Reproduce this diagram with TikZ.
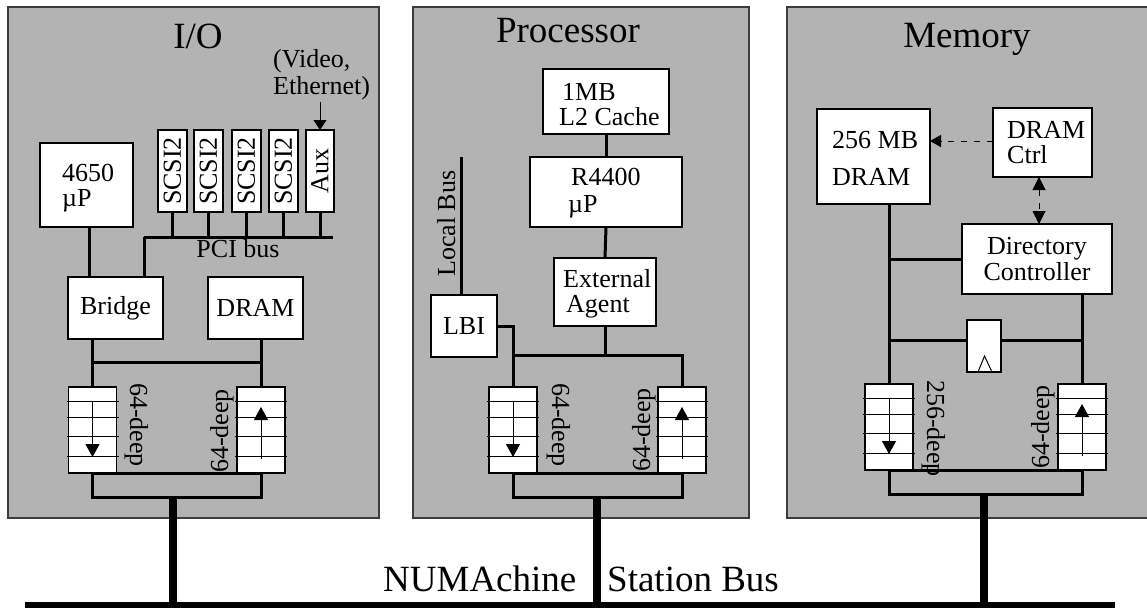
\documentclass[tikz,border=0pt]{standalone}
\usepackage{fontspec}
\setmainfont{Liberation Serif}
\usetikzlibrary{arrows.meta,calc}
\definecolor{panelgray}{RGB}{179,179,179}
\definecolor{paneledge}{RGB}{60,60,60}
\tikzset{
  panel/.style={draw=paneledge, fill=panelgray, line width=1.1pt},
  box/.style={draw=black, fill=white, line width=1.1pt, inner sep=0pt, outer sep=0pt},
  fifobox/.style={box, minimum width=48pt, minimum height=86pt},
  wire/.style={line width=3pt},
  thinwire/.style={line width=1pt},
  drop/.style={line width=8pt},
  title/.style={font=\fontsize{37}{40}\selectfont, inner sep=0pt, anchor=base},
  lbl/.style={font=\fontsize{26}{28}\selectfont, inner sep=0pt},
  tip/.style={-{Triangle[length=13pt,width=14pt]}},
  dashline/.style={thinwire, dash pattern=on 6pt off 7pt},
}
\newcommand{\myfifo}[5]{%
  \node[fifobox] (#1) at (#2,#3+43) {};
  \foreach \o in {14,30,49,69} {\draw[thinwire] ($(#1.north west)+(-2,\o)$) -- ($(#1.north east)+(2,\o)$);}
  \draw[thinwire, tip] ($(#1.north)+(0,#4)$) -- ($(#1.north)+(0,#5)$);
}
\begin{document}
\begin{tikzpicture}[x=1pt,y=-1pt]
\useasboundingbox (0,0) rectangle (1147,607);
% panels
\draw[panel] (8,7) rectangle (379,518);
\draw[panel] (413,7) rectangle (749,518);
\draw[panel] (787,7) rectangle (1152,518);

% station bus
\coordinate (busL) at (25,604.5);
\coordinate (busR) at (1115,604.5);
\draw[line width=6pt] (busL) -- (busR);
\node[title, anchor=base west] (numa) at (383,591) {NUMAchine};
\node[title, anchor=base west] (stbus) at (607,591) {Station Bus};

% ================= I/O =================
\node[title] (ioT) at (198,49) {I/O};
\node[lbl, anchor=base west] (vid) at (273,68) {(Video,};
\node[lbl, anchor=base west] (eth) at (273,95) {Ethernet)};
\foreach \n/\x in {s1/172.5, s2/208.5, s3/246.5, s4/283.5} {
  \node[box, minimum width=29pt, minimum height=82pt] (\n) at (\x,171) {};
  \node[lbl, rotate=90] at (\n) {SCSI2};
}
\node[box, minimum width=28pt, minimum height=82pt] (aux) at (320,171) {};
\node[lbl, rotate=90] at (aux) {Aux};
\coordinate (auxIn) at (320,102);
\draw[thinwire, -{Triangle[length=10pt,width=13pt]}] (auxIn) -- (aux.north);
\coordinate (pciL) at (144,237);
\coordinate (pciR) at (333,237);
\draw[wire] (pciL) -- (pciR);
\foreach \n in {s1,s2,s3,s4,aux} \draw[wire] (\n.south) -- (\n.south |- pciL);
\node[lbl, anchor=base] (pcilab) at (238,257) {PCI bus};
\node[box, minimum width=93pt, minimum height=84pt] (cpu) at (86.5,185) {};
\node[lbl, anchor=base west] (t4650) at (62,181) {4650};
\node[lbl, anchor=base west] (tmuP) at (62,206) {µP};
\node[box, lbl, minimum width=95pt, minimum height=62pt] (bridge) at (115.5,308) {Bridge};
\node[box, lbl, minimum width=95pt, minimum height=62pt] (iodram) at (255.5,308) {DRAM};
\draw[wire] ($(cpu.south)+(2.5,0)$) -- ($(cpu.south |- bridge.north)+(2.5,0)$);
\draw[wire] (pciL) -- (pciL |- bridge.north);
\myfifo{ioFL}{92.5}{387}{14}{70}
\myfifo{ioFR}{261}{387}{72}{20}
\coordinate (ioJ) at (0,362);
\draw[wire] (ioFL.north) -- (ioFL.north |- bridge.south);
\draw[wire] (ioFR.north) -- (ioFR.north |- iodram.south);
\draw[wire] (ioFL.north |- ioJ) -- (ioFR.north |- ioJ);
\draw[wire] (ioFL.south) -- ++(0,24) -| (ioFR.south) -- cycle;
\node[lbl, rotate=-90, anchor=base west] at (130,383) {64-deep};
\node[lbl, rotate=90, anchor=base west] at (228,473) {64-deep};
\coordinate (ioDrop) at (173,497);
\draw[drop] (ioDrop) -- (ioDrop |- busL);

% ================= Processor =================
\node[title] (prT) at (568,43) {Processor};
\node[box, minimum width=126pt, minimum height=65pt] (l2) at (606,101.5) {};
\node[lbl, anchor=base west] at (562,100) {1MB};
\node[lbl, anchor=base west] at (559,125) {L2 Cache};
\node[box, minimum width=152pt, minimum height=70pt] (r4400) at (606,192) {};
\node[lbl, anchor=base west] at (571,185) {R4400};
\node[lbl, anchor=base west] at (568,212) {µP};
\node[box, minimum width=102pt, minimum height=68pt] (ea) at (605,292) {};
\node[lbl, anchor=base west] at (563,287) {External};
\node[lbl, anchor=base west] at (566,312) {Agent};
\node[box, lbl, minimum width=66pt, minimum height=62pt] (lbi) at (464,326) {LBI};
\coordinate (lbTop) at (461,157);
\draw[wire] (lbTop) -- (lbTop |- lbi.north);
\node[lbl, rotate=90, anchor=base west] at (455,277) {Local Bus};
\draw[wire] (l2.south) -- (r4400.north);
\draw[wire] (r4400.south) -- (ea.north);
\myfifo{prFL}{513}{387}{14}{70}
\myfifo{prFR}{682}{387}{72}{20}
\draw[wire] (lbi.east) -| (prFL.north);
\coordinate (prJ) at (0,355);
\draw[wire] (prFL.north |- prJ) -- (prFR.north |- prJ) -- (prFR.north);
\draw[wire] (ea.south) -- (ea.south |- prJ);
\draw[wire] (prFL.south) -- ++(0,24) -| (prFR.south) -- cycle;
\node[lbl, rotate=-90, anchor=base west] at (552,383) {64-deep};
\node[lbl, rotate=90, anchor=base west] at (650,472) {64-deep};
\coordinate (prDrop) at (597,497);
\draw[drop] (prDrop) -- (prDrop |- busL);

% ================= Memory =================
\node[title] (meT) at (967,48) {Memory};
\node[box, minimum width=113pt, minimum height=95pt] (mdram) at (873.5,156.5) {};
\node[lbl, anchor=base west] at (832,148) {256 MB};
\node[lbl, anchor=base west] at (832,185) {DRAM};
\node[box, minimum width=99pt, minimum height=69pt] (ctrl) at (1042.5,142.5) {};
\node[lbl, anchor=base west] at (1007,138) {DRAM};
\node[lbl, anchor=base west] at (1007,163) {Ctrl};
\node[box, lbl, minimum width=150pt, minimum height=70pt, align=center,
      font=\fontsize{26}{25.5}\selectfont] (dir) at (1037,259) {Directory\\Controller};
\coordinate (dashY) at (0,141);
\draw[dashline, -{Triangle[length=11pt,width=12pt]}] (ctrl.west |- dashY) -- (mdram.east |- dashY);
\coordinate (dc) at (1039,0);
\draw[dashline, {Triangle[length=13pt,width=13pt]}-{Triangle[length=13pt,width=13pt]}] (ctrl.south -| dc) -- (dir.north -| dc);
\myfifo{meFL}{889}{384}{14}{70}
\myfifo{meFR}{1082}{384}{72}{20}
\draw[wire] (meFL.north) -- (meFL.north |- mdram.south);
\draw[wire] (dir.west) -- (dir.west -| meFL.north);
\draw[wire] (dir.south -| meFR.north) -- (meFR.north);
\node[box, minimum width=34pt, minimum height=52pt] (reg) at (984,346) {};
\draw[thinwire] ($(reg.south)+(-6,0)$) -- ($(reg.south)+(0.5,-16)$) -- ($(reg.south)+(8,0)$);
\coordinate (meJ) at (0,340);
\draw[wire] (meFL.north |- meJ) -- (reg.west |- meJ);
\draw[wire] (reg.east |- meJ) -- (meFR.north |- meJ);
\draw[wire] (meFL.south) -- ++(0,24) -| (meFR.south) -- cycle;
\node[lbl, rotate=-90, anchor=base west] at (927,380) {256-deep};
\node[lbl, rotate=90, anchor=base west] at (1049,469) {64-deep};
\coordinate (meDrop) at (984,494);
\draw[drop] (meDrop) -- (meDrop |- busL);
\end{tikzpicture}
\end{document}
